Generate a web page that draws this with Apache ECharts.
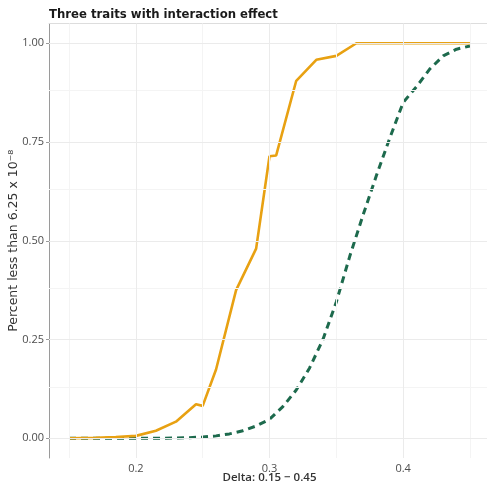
<!DOCTYPE html>
<html>
<head>
<meta charset="utf-8">
<script src="https://cdn.jsdelivr.net/npm/echarts@6/dist/echarts.min.js"></script>
<style>
  html, body { margin: 0; padding: 0; background: #fff; }
  #chart { width: 487px; height: 486px; }
</style>
</head>
<body>
<div id="chart"></div>
<script>
// Solid curve: interaction model
const solidDelta = [0.15, 0.17, 0.185, 0.2, 0.215, 0.23, 0.245, 0.25, 0.26, 0.275, 0.29, 0.3, 0.305, 0.32, 0.335, 0.35, 0.365, 0.38, 0.4, 0.42, 0.45];
const solidPct   = [0, 0.001, 0.003, 0.006, 0.019, 0.042, 0.086, 0.082, 0.174, 0.375, 0.48, 0.714, 0.716, 0.905, 0.958, 0.968, 1, 1, 1, 1, 1];

// Dashed curve: additive model
const dashedDelta = [0.15, 0.16, 0.17, 0.18, 0.19, 0.2, 0.21, 0.22, 0.23, 0.24, 0.25, 0.26, 0.27, 0.28, 0.29, 0.3, 0.31, 0.32, 0.33, 0.34, 0.35, 0.36, 0.37, 0.38, 0.39, 0.4, 0.41, 0.42, 0.43, 0.44, 0.45];
const dashedPct   = [0, 0, 0, 0, 0, 0, 0, 0, 0.0005, 0.0015, 0.003, 0.006, 0.011, 0.019, 0.031, 0.048, 0.08, 0.122, 0.178, 0.25, 0.345, 0.46, 0.565, 0.665, 0.76, 0.85, 0.89, 0.935, 0.968, 0.985, 0.993];

// Axis ticks and grid lines
const xMajor = [0.2, 0.3, 0.4];
const xMinor = [0.15, 0.25, 0.35, 0.45];
const yMajor = [0, 0.25, 0.5, 0.75, 1];
const yMinor = [0.125, 0.375, 0.625, 0.875];

const titleText = 'Three traits with interaction effect';
const xTitle = 'Delta: 0.15 \u2212 0.45';
const yTitle = 'Percent less than 6.25 x 10\u207B\u2078';

const pairs = (xs, ys) => xs.map((x, i) => [x, ys[i]]);
const vLines = (vals, color) => vals.map(v => ({ xAxis: v, lineStyle: { color: color, width: 1, type: 'solid' } }));
const hLines = (vals, color) => vals.map(v => ({ yAxis: v, lineStyle: { color: color, width: 1, type: 'solid' } }));

const tickFont = { fontFamily: 'Open Sans', fontSize: 11, color: '#4d4d4d' };

const chart = echarts.init(document.getElementById('chart'), null, { renderer: 'canvas' });
chart.setOption({
  animation: false,
  backgroundColor: '#ffffff',
  title: {
    text: titleText,
    left: 44,
    top: 4,
    textStyle: { fontFamily: 'DejaVu Sans', fontWeight: 'bold', fontSize: 11.7, color: '#1a1a1a' }
  },
  grid: { left: 49, top: 23.5, width: 441, height: 434.5, containLabel: false, outerBoundsMode: 'none' },
  xAxis: [{
    type: 'value',
    min: 0.135,
    max: 0.465,
    position: 'bottom',
    axisLine: { show: true, lineStyle: { color: '#9a9a9a', width: 1 } },
    axisTick: { show: true, customValues: xMajor, length: 3, lineStyle: { color: '#9a9a9a' } },
    axisLabel: Object.assign({ customValues: xMajor, margin: 5, formatter: v => v.toFixed(1) }, tickFont),
    splitLine: { show: false },
    name: xTitle,
    nameLocation: 'middle',
    nameGap: 14,
    nameMoveOverlap: false,
    nameTextStyle: { fontFamily: 'Open Sans', fontWeight: 600, fontSize: 11.5, color: '#333' }
  }, {
    type: 'value',
    min: 0.135,
    max: 0.465,
    position: 'top',
    axisLine: { show: true, lineStyle: { color: '#dddddd', width: 1 } },
    axisTick: { show: false },
    axisLabel: { show: false },
    splitLine: { show: false }
  }],
  yAxis: {
    type: 'value',
    min: -0.05,
    max: 1.05,
    axisLine: { show: true, lineStyle: { color: '#9a9a9a', width: 1 } },
    axisTick: { show: true, customValues: yMajor, length: 3, lineStyle: { color: '#9a9a9a' } },
    axisLabel: Object.assign({ customValues: yMajor, margin: 5, formatter: v => v.toFixed(2) }, tickFont),
    splitLine: { show: false },
    name: yTitle,
    nameLocation: 'middle',
    nameGap: 29,
    nameMoveOverlap: false,
    nameTextStyle: { fontFamily: 'DejaVu Sans', fontSize: 12.5, color: '#333' }
  },
  series: [
    {
      // background grid
      type: 'line',
      data: [],
      silent: true,
      z: 1,
      markLine: {
        silent: true,
        symbol: 'none',
        label: { show: false },
        animation: false,
        data: [].concat(
          vLines(xMinor, '#f4f4f4'),
          hLines(yMinor, '#f4f4f4'),
          vLines(xMajor, '#ebebeb'),
          hLines(yMajor, '#ebebeb')
        )
      }
    },
    {
      name: 'Additive',
      type: 'line',
      data: pairs(dashedDelta, dashedPct),
      showSymbol: false,
      z: 3,
      lineStyle: { color: '#1d6a4d', width: 3, type: [7, 5] }
    },
    {
      name: 'Interaction',
      type: 'line',
      data: pairs(solidDelta, solidPct),
      showSymbol: false,
      z: 4,
      lineStyle: { color: '#e8a112', width: 2.6 }
    }
  ]
});
</script>
</body>
</html>
